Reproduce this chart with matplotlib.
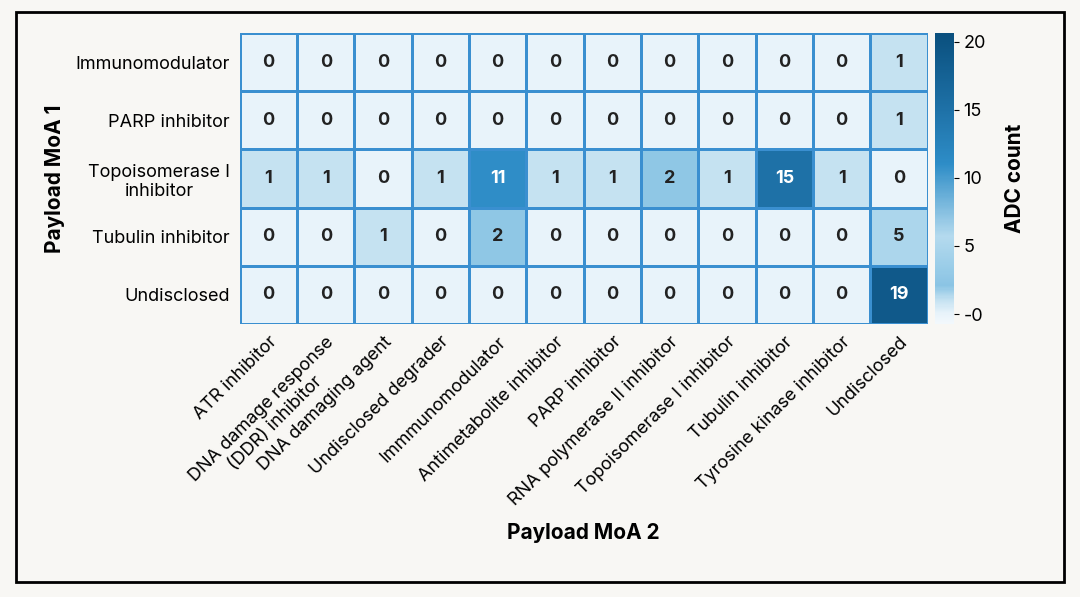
import numpy as np
from matplotlib import pyplot as plt
from matplotlib.colors import LinearSegmentedColormap
from matplotlib.patches import Rectangle

plt.rcParams['font.family'] = ['Inter', 'DejaVu Sans']

rows = ["Immunomodulator", "PARP inhibitor", "Topoisomerase I\ninhibitor",
        "Tubulin inhibitor", "Undisclosed"]
cols = ["ATR inhibitor", "DNA damage response\n(DDR) inhibitor", "DNA damaging agent",
        "Undisclosed degrader", "Immmunomodulator", "Antimetabolite inhibitor",
        "PARP inhibitor", "RNA polymerase II inhibitor", "Topoisomerase I inhibitor",
        "Tubulin inhibitor", "Tyrosine kinase inhibitor", "Undisclosed"]
counts = np.array([
    [0, 0, 0, 0, 0, 0, 0, 0, 0, 0, 0, 1],
    [0, 0, 0, 0, 0, 0, 0, 0, 0, 0, 0, 1],
    [1, 1, 0, 1, 11, 1, 1, 2, 1, 15, 1, 0],
    [0, 0, 1, 0, 2, 0, 0, 0, 0, 0, 0, 5],
    [0, 0, 0, 0, 0, 0, 0, 0, 0, 0, 0, 19],
])

cmap = LinearSegmentedColormap.from_list("b", [
    (0, "#f2f8fc"), (0.033, "#e8f3fa"), (0.08, "#c4e1f1"), (0.13, "#8ac4e4"),
    (0.3, "#b4daee"), (0.55, "#2e8dc7"), (0.74, "#1e71a7"), (1, "#0a507e")])

fig = plt.figure(figsize=(10.8, 5.97), dpi=100, facecolor="#f8f7f4")
fig.patches.append(Rectangle((0.015, 0.025), 0.97, 0.955, transform=fig.transFigure,
                             fill=False, edgecolor="black", linewidth=2))
ax = fig.add_axes([0.222, 0.458, 0.637, 0.486])
cax = fig.add_axes([0.866, 0.458, 0.017, 0.486])

im = ax.pcolormesh(counts, cmap=cmap, vmin=-0.7, vmax=20.6,
                   edgecolors="#3a8fd0", linewidth=0.8)
ax.set_xlim(0, 12)
ax.set_ylim(5, 0)
for sp in ax.spines.values():
    sp.set_visible(False)
for i in range(counts.shape[0]):
    for j in range(counts.shape[1]):
        v = counts[i, j]
        ax.text(j + 0.5, i + 0.5, str(v), ha="center", va="center", fontsize=13,
                fontweight="bold", color="white" if v >= 10 else "#222222")
ax.set_xticks(np.arange(12) + 0.5)
ax.set_xticklabels(cols, rotation=45, ha="right", rotation_mode="anchor",
                   fontsize=13, ma="center")
ax.set_yticks(np.arange(5) + 0.5)
ax.set_yticklabels(rows, fontsize=13, ma="center")
ax.tick_params(length=0, pad=7)
ax.set_xlabel("Payload MoA 2", fontsize=15, fontweight="bold", labelpad=10)
ax.set_ylabel("Payload MoA 1", fontsize=15, fontweight="bold", labelpad=8)

cb = fig.colorbar(im, cax=cax, ticks=[0, 5, 10, 15, 20])
cb.ax.set_yticklabels(["-0", "5", "10", "15", "20"], fontsize=13)
cb.outline.set_visible(False)
cb.set_label("ADC count", fontsize=15, fontweight="bold", labelpad=14)

fig.savefig("out.png", facecolor=fig.get_facecolor())
